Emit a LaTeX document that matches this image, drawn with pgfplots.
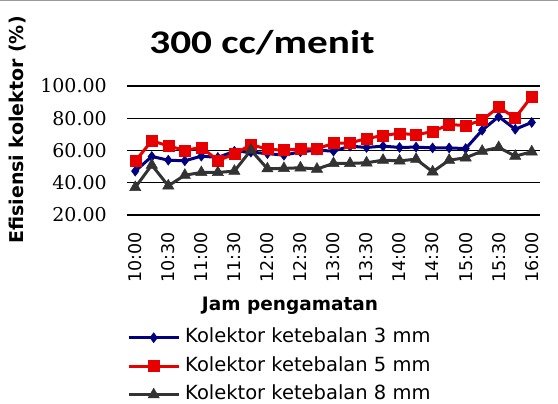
\documentclass[border=0pt]{standalone}
\usepackage{pgfplots}
\pgfplotsset{compat=1.18}
\usepackage{fontspec}
\setmainfont{DejaVu Sans}
\newfontfamily\serifticks{DejaVu Serif}
\newfontfamily\titlefont{Carlito}
\usepackage{graphicx}
\definecolor{c3}{RGB}{0,0,128}
\definecolor{c5}{RGB}{230,0,0}
\definecolor{c8}{RGB}{51,51,51}
\begin{document}
\begin{tikzpicture}
\useasboundingbox (-127pt,-189pt) rectangle (431pt,215pt);
\draw[gray!80, line width=1pt] (-127pt,214.5pt) -- (431pt,214.5pt);
\begin{axis}[
  at={(0pt,0pt)}, anchor=south west,
  scale only axis, width=413pt, height=129pt,
  xmin=-0.5, xmax=24.5, ymin=20, ymax=100,
  ytick={20,40,60,80,100},
  yticklabels={20.00,40.00,60.00,80.00,100.00},
  xtick={0,2,...,24},
  xticklabels={10:00,10:30,11:00,11:30,12:00,12:30,13:00,13:30,14:00,14:30,15:00,15:30,16:00},
  axis line style={draw=none},
  major tick length=0pt,
  ymajorgrids, grid style={black, line width=1.2pt},
  yticklabel style={font=\serifticks\fontsize{19}{19}\selectfont, anchor=east, xshift=-20pt, inner sep=0pt},
  xticklabel style={font=\fontsize{17.5}{17.5}\selectfont, rotate=90, anchor=east, inner sep=0pt, xshift=-17pt},
  legend style={at={(0,-0.88)}, anchor=north west, draw=none, fill=none, inner sep=0pt,
    row sep=10.5pt, font=\fontsize{19.5}{19.5}\selectfont,
    nodes={inner sep=0pt, text height=14pt, text depth=4pt}},
  legend cell align=left,
  legend image code/.code={\draw[#1, mark repeat=2, mark phase=2] plot coordinates {(0pt,0pt) (25pt,0pt) (50pt,0pt)}; \path (55pt,0pt);},
  clip=false,
]
\addplot[c3, line width=3pt, mark=diamond*, mark size=5pt, mark options={solid, line width=0.5pt}] coordinates {
(0,47.2)(1,56.3)(2,54)(3,53.6)(4,56.5)(5,55.7)(6,59.5)(7,59)(8,58.1)(9,57.1)(10,59.2)(11,60.2)(12,59.6)(13,62.7)(14,61.9)(15,62.7)(16,61.9)(17,62.1)(18,61.6)(19,61.6)(20,61.2)(21,72.6)(22,81)(23,73.2)(24,77.4)};
\addlegendentry{Kolektor ketebalan 3 mm}
\addplot[c5, line width=3pt, mark=square*, mark size=5.5pt, mark options={solid, line width=0.5pt}] coordinates {
(0,53.4)(1,66)(2,62.9)(3,60)(4,62)(5,53.8)(6,57.7)(7,63.7)(8,60.8)(9,60.2)(10,61)(11,61)(12,64.5)(13,64.7)(14,67.4)(15,69.3)(16,70.7)(17,69.7)(18,71.8)(19,76.1)(20,75.5)(21,78.8)(22,87)(23,80.2)(24,93.6)};
\addlegendentry{Kolektor ketebalan 5 mm}
\addplot[c8, line width=3pt, mark=triangle*, mark size=6.5pt, mark options={solid, line width=0.5pt}] coordinates {
(0,37.1)(1,51)(2,38.1)(3,44.7)(4,46.4)(5,46.4)(6,47.2)(7,60.2)(8,48.7)(9,48.9)(10,49.3)(11,48.5)(12,52)(13,52)(14,52.4)(15,54)(16,53.6)(17,54.6)(18,46.8)(19,54)(20,55.5)(21,59.6)(22,61.9)(23,56.5)(24,59.2)};
\addlegendentry{Kolektor ketebalan 8 mm}
\end{axis}
\node[font=\titlefont\bfseries\fontsize{33}{33}\selectfont, inner sep=0pt] at (135pt,172pt) {\scalebox{1.25}[1]{300 cc/menit}};
\node[font=\bfseries\fontsize{19}{19}\selectfont, inner sep=0pt, rotate=90] at (-109pt,85pt) {Efisiensi kolektor (\%)};
\node[font=\bfseries\fontsize{18.5}{18.5}\selectfont, inner sep=0pt] at (163pt,-91pt) {Jam pengamatan};
\end{tikzpicture}
\end{document}
